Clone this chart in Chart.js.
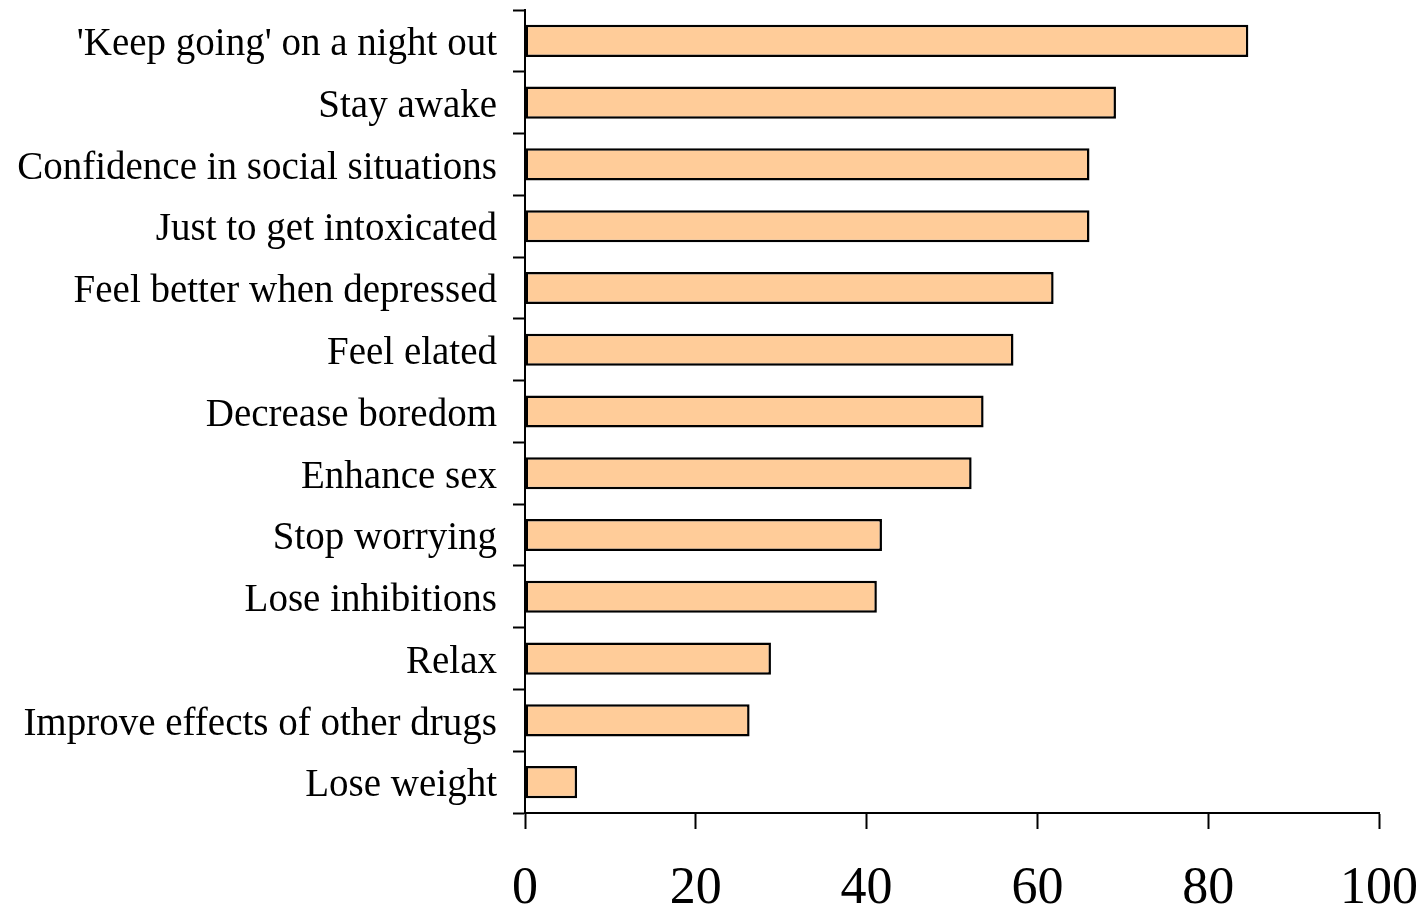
<!DOCTYPE html>
<html>
<head>
<meta charset="utf-8">
<script src="https://cdn.jsdelivr.net/npm/chart.js@4/dist/chart.umd.min.js"></script>
<style>
  html, body { margin: 0; padding: 0; background: #fff; }
  #wrap { width: 1426px; height: 909px; }
</style>
</head>
<body>
<div id="wrap"><canvas id="reasonsChart" width="1426" height="909"></canvas></div>
<script>
(function(){
    // reasons for use (percent of respondents)
    const reasons = [
        "'Keep going' on a night out",
        'Stay awake',
        'Confidence in social situations',
        'Just to get intoxicated',
        'Feel better when depressed',
        'Feel elated',
        'Decrease boredom',
        'Enhance sex',
        'Stop worrying',
        'Lose inhibitions',
        'Relax',
        'Improve effects of other drugs',
        'Lose weight'
    ];
    const percentages = [84.7, 69.2, 66.1, 66.1, 61.9, 57.2, 53.7, 52.3, 41.8, 41.2, 28.8, 26.3, 6.1];
    const xTicks = [0, 20, 40, 60, 80, 100];

    const serif = "'Liberation Serif', 'Times New Roman', serif";

    try {
        const ctx = document.getElementById('reasonsChart');
        window.__REASONS_CHART = new Chart(ctx, {
            type: 'bar',
            data: {
                labels: reasons,
                datasets: [{
                    data: percentages,
                    backgroundColor: '#ffcc99',
                    borderColor: '#000000',
                    borderWidth: 2.5,
                    borderSkipped: false,
                    barPercentage: 0.52,
                    categoryPercentage: 1.0
                }]
            },
            options: {
                indexAxis: 'y',
                responsive: false,
                animation: false,
                layout: { padding: { top: 10, right: 47, left: 0, bottom: 0 } },
                plugins: {
                    legend: { display: false },
                    tooltip: { enabled: false }
                },
                scales: {
                    x: {
                        min: 0,
                        max: 100,
                        afterBuildTicks: (scale) => { scale.ticks = xTicks.map(v => ({ value: v })); },
                        afterFit: (scale) => {
                            scale.height = 96;
                            scale.paddingLeft = 0;
                            scale.paddingRight = 0;
                        },
                        ticks: {
                            color: '#000',
                            font: { family: serif, size: 52 },
                            padding: 29
                        },
                        grid: {
                            drawOnChartArea: false,
                            drawTicks: true,
                            tickLength: 16,
                            tickWidth: 2,
                            tickColor: '#000'
                        },
                        border: { color: '#000', width: 2 }
                    },
                    y: {
                        afterFit: (scale) => {
                            scale.width = 525;
                            scale.paddingTop = 0;
                            scale.paddingBottom = 0;
                        },
                        ticks: {
                            color: '#000',
                            font: { family: serif, size: 39 },
                            padding: 16,
                            labelOffset: 4
                        },
                        grid: {
                            offset: true,
                            drawOnChartArea: false,
                            drawTicks: true,
                            tickLength: 12,
                            tickWidth: 2,
                            tickColor: '#000'
                        },
                        border: { color: '#000', width: 2 }
                    }
                }
            }
        });
    } catch (err) {
        console.error('reasons chart init error', err);
    }
})();
</script>
</body>
</html>
